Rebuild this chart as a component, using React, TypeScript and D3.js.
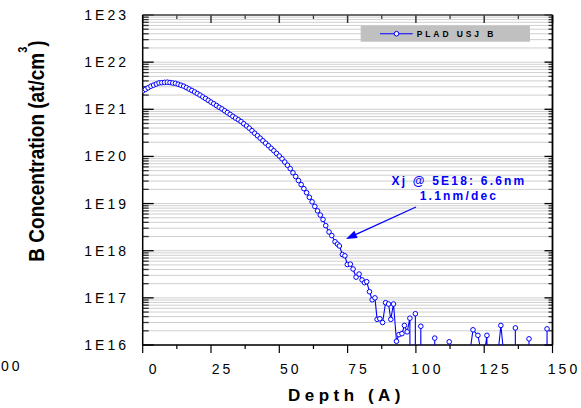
import React from "react";
import * as d3 from "d3";

// ---- data ----
const depth: number[] = [
  0, 1, 2, 3, 4, 5, 6, 7, 8, 9, 10, 11, 12, 13, 14, 15, 16, 17, 18, 19,
  20, 21, 22, 23, 24, 25, 26, 27, 28, 29, 30, 31, 32, 33, 34, 35, 36, 37, 38, 39,
  40, 41, 42, 43, 44, 45, 46, 47, 48, 49, 50, 51, 52, 53, 54, 55, 56, 57, 58, 59,
  60, 61, 62, 63, 64, 65, 66, 67,
  68.2, 69.2, 70.4, 71.3, 72.0, 73.1, 74.0, 74.9, 76.0, 77.0, 78.1, 79.2, 80.3, 81.2, 82.0,
  83.0, 84.0, 85.0, 85.8, 86.8, 87.8, 88.9, 90.0, 90.8, 91.8, 92.9, 93.8, 94.9, 95.8, 96.8,
  97.8, 98.8, 99.8, 100.8, 101.8, 102.8, 105.9, 106.9, 107.9, 111.2, 112.2, 113.2,
  119.9, 120.9, 122.7, 123.7, 125.0, 126.0, 127.0, 130.1, 131.1, 132.1,
  135.4, 136.4, 137.4, 140.4, 141.4, 142.4, 147.0, 148.0, 149.0,
];
const concentration: number[] = [
  2.45e21, 2.65e21, 2.86e21, 3.09e21, 3.26e21, 3.44e21, 3.63e21, 3.67e21, 3.72e21, 3.76e21,
  3.69e21, 3.61e21, 3.55e21, 3.39e21, 3.24e21, 3.09e21, 2.88e21, 2.69e21, 2.51e21, 2.33e21,
  2.15e21, 2.0e21, 1.83e21, 1.69e21, 1.55e21, 1.42e21, 1.31e21, 1.2e21, 1.1e21, 1.02e21,
  9.3e20, 8.5e20, 7.8e20, 7.1e20, 6.5e20, 6.0e20, 5.5e20, 4.93e20, 4.44e20, 3.98e20,
  3.52e20, 3.11e20, 2.75e20, 2.44e20, 2.15e20, 1.91e20, 1.69e20, 1.49e20, 1.32e20, 1.16e20,
  1.02e20, 8.9e19, 7.6e19, 6.5e19, 5.5e19, 4.5e19, 3.74e19, 3.09e19, 2.53e19, 2.07e19,
  1.7e19, 1.36e19, 1.09e19, 8.7e18, 7.0e18, 5.7e18, 4.6e18, 3.4e18,
  2.5e18, 2.1e18, 1.55e18, 1.38e18, 1.26e18, 8.3e17, 7.8e17, 5.1e17, 5.2e17, 4.1e17, 2.75e17,
  3.2e17, 2.4e17, 2.1e17, 2.2e17,
  1.35e17, 9.1e16, 1.0e17, 3.5e16, 3.6e16, 3.0e16, 7.9e16, 7.4e16, 3.5e16, 7.4e16, 1.2e16,
  1.66e16, 1.74e16, 2.6e16, 1.9e16,
  3.7e16, 0, 4.6e16, 0, 2.5e16, 0, 0, 1.4e16, 0, 0, 1.17e16, 0,
  8e15, 2.1e16, 1.6e16, 8e15, 6e15, 1.6e16, 0, 7e15, 2.6e16, 7e15,
  0, 2.3e16, 0, 0, 1.35e16, 0, 0, 2.2e16, 0,
];
const xMajorTicks: number[] = [0, 25, 50, 75, 100, 125, 150];
const xMinorTicks: number[] = [12.5, 37.5, 62.5, 87.5, 112.5, 137.5];
const yDecades: number[] = [16, 17, 18, 19, 20, 21, 22, 23];
const yTickLabels: string[] = ["1E16", "1E17", "1E18", "1E19", "1E20", "1E21", "1E22", "1E23"];
const yMinorMultipliers: number[] = [2, 3, 4, 5, 6, 7, 8, 9];
const seriesName = "PLAD USJ B";
const annotationLines: string[] = ["Xj @ 5E18: 6.6nm", "1.1nm/dec"];
const xTitle = "Depth (A)";
const strayLabel = "00";

const W = 581;
const H = 408;
const L = 142.7, R = 552.5, T = 15, B = 345;
const BLUE = "#0000ff";
const FONT = "'Liberation Sans', Arial, Helvetica, sans-serif";

export default function App() {
  const x = d3.scaleLinear().domain([0, 150]).range([L, R]);
  const y = d3.scaleLog().domain([1e16, 1e23]).range([B, T]);
  const pts = depth.map((d, i) => ({ d, v: concentration[i] }));
  const yOf = (v: number) => (v > 0 ? y(v) : B + 2000);
  const line = d3
    .line<{ d: number; v: number }>()
    .x((p) => x(p.d))
    .y((p) => yOf(p.v));

  const gridVals: number[] = [];
  yDecades.forEach((e) => {
    gridVals.push(Math.pow(10, e));
    if (e < 23) yMinorMultipliers.forEach((m) => gridVals.push(m * Math.pow(10, e)));
  });
  const minorVals: number[] = [];
  yDecades.forEach((e) => {
    if (e < 23) yMinorMultipliers.forEach((m) => minorVals.push(m * Math.pow(10, e)));
  });

  // arrow
  const ax1 = 416, ay1 = 207, ax2 = 346, ay2 = 239;
  const ang = Math.atan2(ay2 - ay1, ax2 - ax1);
  const hl = 11, hw = 4;
  const bx = ax2 - hl * Math.cos(ang), by = ay2 - hl * Math.sin(ang);
  const head = `M${ax2},${ay2}L${bx + hw * Math.sin(ang)},${by - hw * Math.cos(ang)}L${bx - hw * Math.sin(ang)},${by + hw * Math.cos(ang)}Z`;

  return (
    <svg width={W} height={H} style={{ position: "absolute", left: 0, top: 0, background: "#fff" }} fontFamily={FONT}>
      <defs>
        <clipPath id="plot">
          <rect x={L} y={T} width={R - L} height={B - T} />
        </clipPath>
      </defs>
      <rect x={0} y={0} width={W} height={H} fill="#fff" />
      {/* grid */}
      {gridVals.map((v, i) => (
        <line key={"g" + i} x1={L} x2={R} y1={y(v)} y2={y(v)} stroke="#cfcfcf" strokeWidth={1} />
      ))}
      {/* left/right ticks */}
      {yDecades.map((e) => (
        <g key={"yt" + e}>
          <line x1={L} x2={L + 11} y1={y(Math.pow(10, e))} y2={y(Math.pow(10, e))} stroke="#000" strokeWidth={1.3} />
          <line x1={R} x2={R - 8} y1={y(Math.pow(10, e))} y2={y(Math.pow(10, e))} stroke="#000" strokeWidth={1.3} />
        </g>
      ))}
      {minorVals.map((v, i) => (
        <g key={"ym" + i}>
          <line x1={L} x2={L + 6} y1={y(v)} y2={y(v)} stroke="#333" strokeWidth={1.3} />
          <line x1={R} x2={R - 4} y1={y(v)} y2={y(v)} stroke="#333" strokeWidth={1.3} />
        </g>
      ))}
      {/* x ticks */}
      {xMajorTicks.map((t) => (
        <g key={"xt" + t}>
          <line x1={x(t)} x2={x(t)} y1={B} y2={B + 8} stroke="#000" strokeWidth={1.2} />
          <line x1={x(t)} x2={x(t)} y1={T} y2={T + 8} stroke="#333" strokeWidth={1.5} />
        </g>
      ))}
      {xMinorTicks.map((t) => (
        <g key={"xm" + t}>
          <line x1={x(t)} x2={x(t)} y1={B} y2={B + 4} stroke="#000" strokeWidth={1.2} />
          <line x1={x(t)} x2={x(t)} y1={T} y2={T + 4} stroke="#333" strokeWidth={1.2} />
        </g>
      ))}
      {/* frame */}
      <line x1={L} x2={R} y1={T} y2={T} stroke="#444" strokeWidth={1.5} />
      <line x1={L} x2={R} y1={B} y2={B} stroke="#000" strokeWidth={1.5} />
      <line x1={L} x2={L} y1={T} y2={B} stroke="#000" strokeWidth={1.5} />
      <line x1={R} x2={R} y1={T} y2={B} stroke="#000" strokeWidth={1.8} />

      {/* data */}
      <g clipPath="url(#plot)">
        <path d={line(pts) || ""} fill="none" stroke={BLUE} strokeWidth={1.1} />
        {pts
          .filter((p) => p.v >= 1e16)
          .map((p, i) => (
            <circle key={"c" + i} cx={x(p.d)} cy={y(p.v)} r={2.3} fill="#fff" stroke={BLUE} strokeWidth={1} />
          ))}
      </g>

      {/* y labels */}
      {yDecades.map((e, i) => (
        <text key={"yl" + e} x={129} y={y(Math.pow(10, e)) + 5} textAnchor="end" fontSize={14} letterSpacing={3} fill="#000">
          {yTickLabels[i]}
        </text>
      ))}
      {/* x labels */}
      {xMajorTicks.map((t) => (
        <text key={"xl" + t} x={x(t) + 11.5} y={374} textAnchor="middle" fontSize={14} letterSpacing={3} fill="#000">
          {String(t)}
        </text>
      ))}
      <text x={1} y={371} textAnchor="start" fontSize={14} letterSpacing={3} fill="#000">
        {strayLabel}
      </text>

      {/* axis titles */}
      <text x={346.5} y={401} textAnchor="middle" fontSize={17} fontWeight="bold" letterSpacing={4.5} fill="#000">
        {xTitle}
      </text>
      <text transform="translate(44,151) rotate(-90) scale(1,1.2)" textAnchor="middle" fontSize={19} fontWeight="bold" fill="#000">
        B Concentration (at/cm
        <tspan fontSize={11} dy={-14}>3</tspan>
        <tspan dy={14}>)</tspan>
      </text>

      {/* legend */}
      <rect x={360.7} y={25.7} width={169.3} height={16} fill="#c0c0c0" />
      <line x1={380} x2={412.7} y1={33.7} y2={33.7} stroke={BLUE} strokeWidth={1.1} />
      <circle cx={396.5} cy={33.7} r={2.3} fill="#fff" stroke={BLUE} strokeWidth={1} />
      <text x={416.7} y={37.3} fontSize={8.5} fontWeight="bold" letterSpacing={2.9} fill="#000">
        {seriesName}
      </text>

      {/* annotation */}
      <text x={459} y={185} textAnchor="middle" fontSize={12} fontWeight="bold" letterSpacing={2.2} fill={BLUE}>
        {annotationLines[0]}
      </text>
      <text x={459} y={200} textAnchor="middle" fontSize={12} fontWeight="bold" letterSpacing={2.2} fill={BLUE}>
        {annotationLines[1]}
      </text>
      <line x1={ax1} y1={ay1} x2={bx} y2={by} stroke={BLUE} strokeWidth={1.3} />
      <path d={head} fill={BLUE} />
    </svg>
  );
}
